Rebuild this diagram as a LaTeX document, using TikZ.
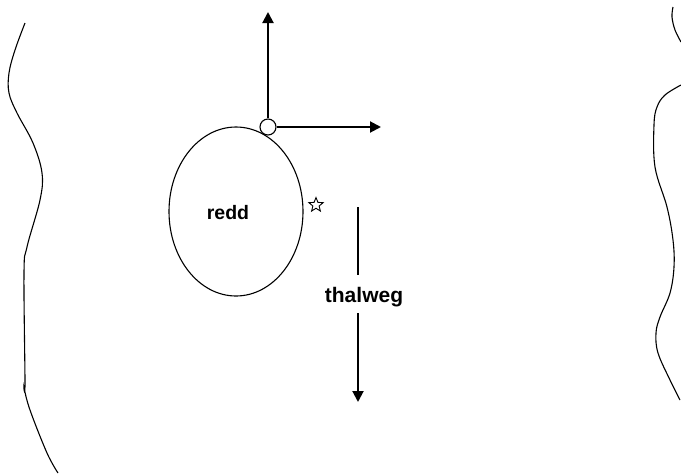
\documentclass[tikz,border=0pt]{standalone}
\usepackage{fontspec}
\setmainfont{Liberation Sans}
\usetikzlibrary{positioning, arrows.meta, shapes.geometric}

\begin{document}
\begin{tikzpicture}[x=1pt, y=-1pt,
		bank/.style={line width=1.1pt},
		redd/.style={draw, ellipse, line width=1.1pt, minimum width=134pt, minimum height=169pt,
			inner sep=0pt},
		pin/.style={draw, circle, line width=1.1pt, fill=white, minimum size=16pt, inner sep=0pt},
		marker/.style={draw, star, star points=5, star point ratio=2.3, line width=0.9pt,
			minimum size=15pt, inner sep=0pt},
		arrow/.style={-{Triangle[length=11pt, width=11pt]}, line width=2pt},
		lbl/.style={font=\fontsize{19.5}{22}\selectfont\bfseries, inner sep=0pt},
		]
		\useasboundingbox (0,0) rectangle (681,475);
		
		%% ── BANKS ──────────────────────────────────────────────
		\draw[bank] plot[smooth, tension=0.6] coordinates {
			(25,23) (15,50) (9,73) (9,93) (17,113) (33,143) (42,173) (40,200)
			(27,247) (24,273) (25,383) (24,387) (30,410) (47,453) (58,473)};
		\draw[bank] plot[smooth, tension=0.6] coordinates {
			(673,7) (672,17) (675,30) (681,42)};
		\draw[bank] plot[smooth, tension=0.6] coordinates {
			(681,85) (665,95) (657,107) (654,125) (655,167) (667,207) (673,240)
			(674,267) (670,293) (660,317) (656,333) (658,353) (670,380) (680,400)};
		
		%% ── REDD ───────────────────────────────────────────────
		\node[redd] (redd) at (236,211.5) {};
		\node[lbl] (reddtxt) at (228,213) {redd};
		\node[marker] (star) at (316,205) {};
		
		% axes at the pin
		\node[pin] (pin) at (268,127) {};
		\coordinate (up) at (268,12);
		\coordinate (right) at (381,127);
		\draw[arrow] (pin.north) -- (up);
		\draw[arrow] (pin.east) -- (right);
		
		%% ── THALWEG ────────────────────────────────────────────
		\node[lbl, font=\fontsize{21}{24}\selectfont\bfseries] (thal) at (364,297) {thalweg};
		\coordinate (ttop) at (358,207);
		\coordinate (tbot) at (358,402);
		\draw[line width=2pt] (ttop) -- (358,275);
		\draw[arrow] (358,313) -- (tbot);
		
	\end{tikzpicture}
\end{document}
